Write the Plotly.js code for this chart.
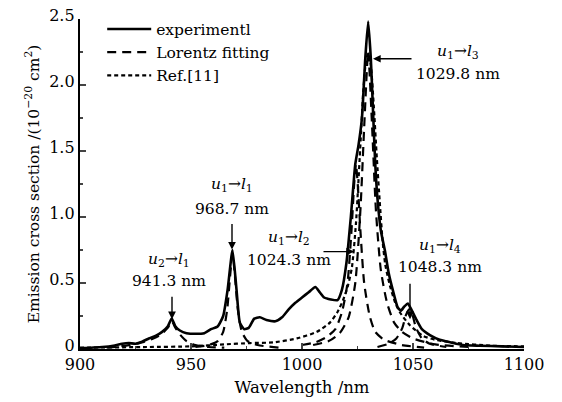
<!DOCTYPE html>
<html>
<head>
<meta charset="utf-8">
<script src="https://cdn.plot.ly/plotly-3.0.1.min.js"></script>
<style>html,body{margin:0;padding:0;background:#fff;}#chart{width:562px;height:402px;}</style>
</head>
<body>
<div id="chart"></div>
<script>
// ---- data ----
const expX = [900,905,910,915,919,922,925,928,931,934,937,939.5,941.3,943,945,948,952,956,959,962,964.5,966.5,968.7,970.5,972,974,976,978.5,981,984,988,991,994,997,1000,1003,1006,1008,1010,1013,1016,1018,1020,1022,1024,1025.5,1027,1028.5,1029.8,1031,1032,1033,1034,1035.5,1037.4,1039,1041,1043,1044.5,1046,1047.7,1049.5,1051.6,1054,1057.6,1062,1067,1072.5,1080,1090,1100];
const expY = [0.005,0.01,0.015,0.025,0.04,0.045,0.04,0.055,0.08,0.1,0.13,0.17,0.23,0.17,0.14,0.12,0.115,0.12,0.15,0.17,0.25,0.45,0.75,0.45,0.2,0.15,0.16,0.23,0.24,0.22,0.21,0.24,0.3,0.35,0.39,0.43,0.47,0.43,0.39,0.375,0.37,0.45,0.65,1.0,1.4,1.55,1.75,2.2,2.48,2.2,1.8,1.4,1.14,0.9,0.74,0.58,0.44,0.32,0.29,0.32,0.345,0.29,0.22,0.15,0.105,0.07,0.05,0.03,0.025,0.02,0.015];

const lor941X = [912,918,924,929,933,936.5,939.5,941.3,943,945,948,952,958,965];
const lor941Y = [0.01,0.02,0.035,0.055,0.08,0.11,0.16,0.21,0.16,0.11,0.06,0.03,0.015,0.01];
const lor968X = [952,958,962,964.5,966.3,967.6,968.7,969.8,971.1,972.9,975.5,980,990];
const lor968Y = [0.015,0.03,0.06,0.13,0.3,0.55,0.72,0.55,0.3,0.13,0.06,0.03,0.01];
const lor1024X = [1000,1006,1011,1015,1018,1020.5,1022.3,1023.5,1024.3,1025.1,1026.3,1028,1030.5,1033,1037,1045,1055];
const lor1024Y = [0.03,0.05,0.09,0.15,0.28,0.5,0.9,1.25,1.4,1.25,0.9,0.5,0.25,0.13,0.07,0.03,0.01];
const lor1030X = [1005,1012,1017,1021,1024,1026.3,1028.2,1029.8,1031.4,1033.3,1035.5,1038.3,1041.5,1045,1050,1060,1075];
const lor1030Y = [0.03,0.06,0.12,0.24,0.5,1.05,1.75,2.25,1.75,1.05,0.6,0.35,0.2,0.13,0.08,0.035,0.015];
const lor1048X = [1034,1039,1042.5,1045.2,1046.9,1048.3,1049.7,1051.4,1054,1057.5,1065];
const lor1048Y = [0.015,0.04,0.08,0.16,0.26,0.3,0.26,0.16,0.08,0.04,0.015];

const refX = [900,930,950,965,976.6,987,997.7,1006.7,1012.6,1016,1018.5,1020.7,1022.5,1024.3,1026,1027.6,1028.8,1029.8,1031,1032.3,1033.7,1035,1036.3,1037.5,1039.6,1042,1044,1048.6,1054.5,1060,1070,1085,1100];
const refY = [0.01,0.015,0.02,0.035,0.045,0.05,0.08,0.13,0.2,0.28,0.37,0.48,0.62,0.95,1.45,1.95,2.18,2.24,2.15,1.85,1.45,1.12,0.82,0.64,0.48,0.35,0.28,0.18,0.1,0.07,0.045,0.025,0.02];

const xTicks = [900,950,1000,1050,1100];
const yTicks = [0,0.5,1.0,1.5,2.0,2.5];
const yTickText = ['0','0.5','1.0','1.5','2.0','2.5'];
const legendNames = ['experimentl','Lorentz fitting','Ref.[11]'];

// ---- drawing ----
const FONT = 'DejaVu Serif, Liberation Serif, serif';
const dashStyle = {color:'#000', width:2.2, dash:'9px,6px', shape:'spline', smoothing:0.6};
function lor(x, y, first) {
  return {x:x, y:y, mode:'lines', type:'scatter', name:legendNames[1], showlegend:!!first, line:dashStyle, hoverinfo:'skip'};
}
const traces = [
  {x:expX, y:expY, mode:'lines', name:legendNames[0], line:{color:'#000', width:2.6, shape:'spline', smoothing:0.5}},
  lor(lor1030X, lor1030Y, true),
  {x:refX, y:refY, mode:'lines', name:legendNames[2], line:{color:'#000', width:2.2, dash:'4px,3px', shape:'spline', smoothing:0.6}},
  lor(lor941X, lor941Y), lor(lor968X, lor968Y), lor(lor1024X, lor1024Y), lor(lor1048X, lor1048Y)
];

// pixel -> paper helpers for label placement
const L=80, R=524, T=17, B=349;
const px = v => (v-L)/(R-L);
const py = v => (B-v)/(B-T);
function label(x, y, text) {
  return {xref:'paper', yref:'paper', x:px(x), y:py(y), text:text, showarrow:false, xanchor:'center', yanchor:'middle', font:{family:FONT, size:15.5, color:'#000'}};
}
function arrow(hx, hy, tx, ty) {
  return {xref:'paper', yref:'paper', x:px(hx), y:py(hy), axref:'pixel', ayref:'pixel', ax:tx-hx, ay:ty-hy, text:'', showarrow:true, arrowhead:2, arrowsize:1.1, arrowwidth:1.4, arrowcolor:'#000'};
}
const tr = (a,b) => '<i>u</i><sub>'+a+'</sub>→<i>l</i><sub>'+b+'</sub>';
const annotations = [
  label(169, 259, tr(2,1)), label(169, 281, '941.3 nm'), arrow(172, 319, 172, 295),
  label(232, 184, tr(1,1)), label(232, 208, '968.7 nm'), arrow(232, 249, 232, 222),
  label(289, 237, tr(1,2)), label(289, 259, '1024.3 nm'), arrow(354, 251, 322, 251),
  label(458, 50, tr(1,3)), label(458, 72, '1029.8 nm'), arrow(373, 57, 413, 57),
  label(440, 245, tr(1,4)), label(440, 267, '1048.3 nm'), arrow(410, 319, 410, 282)
];

const layout = {
  width:562, height:402,
  margin:{l:L, r:562-R, t:T, b:402-B},
  paper_bgcolor:'#fff', plot_bgcolor:'#fff',
  font:{family:FONT, size:15, color:'#000'},
  showlegend:true,
  legend:{x:0.05, y:1.02, xanchor:'left', yanchor:'top', bgcolor:'rgba(0,0,0,0)', font:{family:FONT, size:15.5}, tracegroupgap:0, itemwidth:44},
  xaxis:{range:[900,1100], tickvals:xTicks, ticks:'inside', ticklen:6, tickwidth:2, showline:true, linewidth:2.2, linecolor:'#000', showgrid:false, zeroline:false, tickfont:{family:FONT, size:16},
    minor:{ticks:'inside', ticklen:3, tickwidth:1.5, dtick:25, showgrid:false},
    title:{text:'Wavelength /nm', font:{family:FONT, size:16.5}, standoff:8}},
  yaxis:{range:[0,2.5], tickvals:yTicks, ticktext:yTickText, ticks:'inside', ticklen:6, tickwidth:2, showline:true, linewidth:2.2, linecolor:'#000', showgrid:false, zeroline:false, tickfont:{family:FONT, size:16}, ticklabelshift:-4,
    minor:{ticks:'inside', ticklen:3, tickwidth:1.5, dtick:0.25, showgrid:false},
    title:{text:'Emission cross section /(10<sup>−20</sup> cm<sup>2</sup>)', font:{family:FONT, size:15.5}, standoff:6}},
  annotations:annotations
};
Plotly.newPlot('chart', traces, layout, {staticPlot:true, displayModeBar:false});
</script>
</body>
</html>
